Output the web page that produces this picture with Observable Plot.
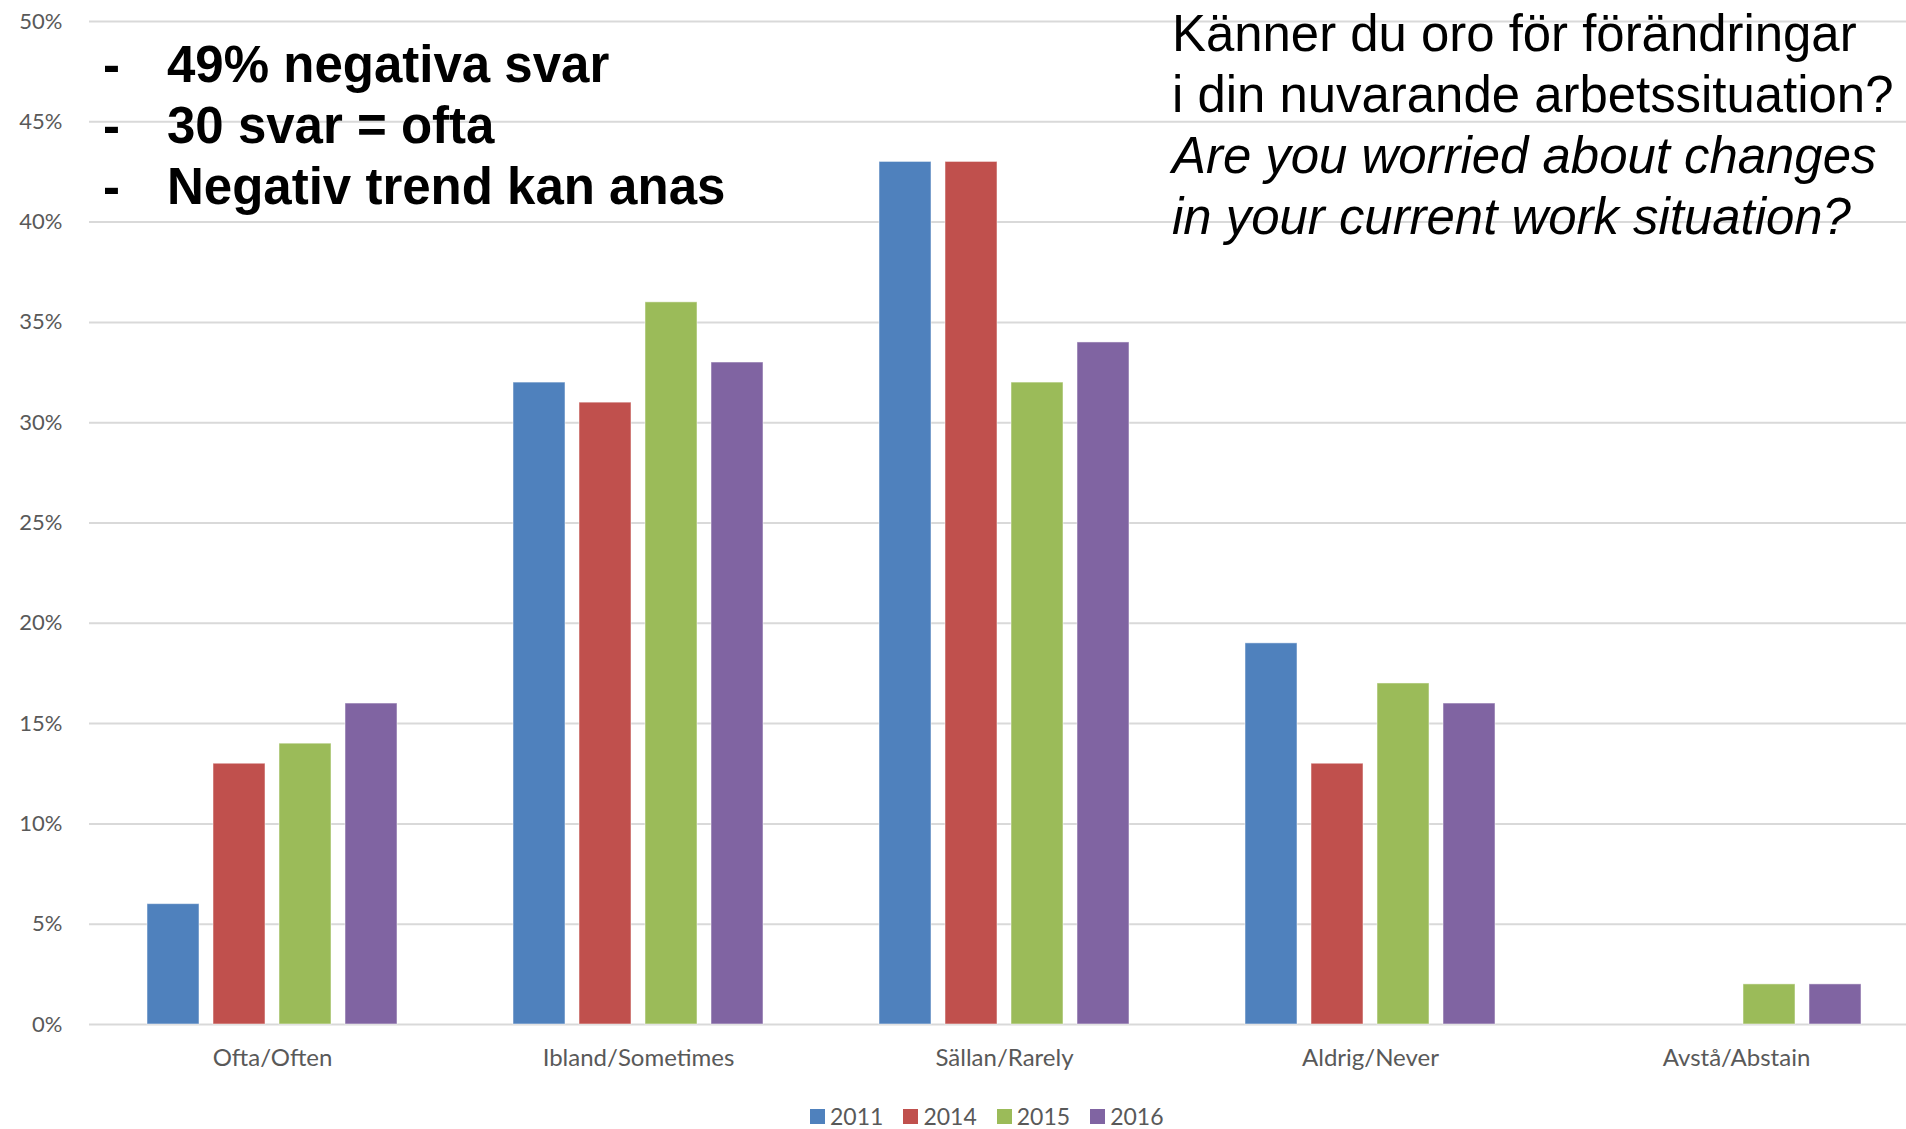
<!DOCTYPE html>
<html>
<head>
<meta charset="utf-8">
<script src="https://cdn.jsdelivr.net/npm/d3@7"></script>
<script src="https://cdn.jsdelivr.net/npm/@observablehq/plot@0.6"></script>
<style>
  body { margin: 0; background: #fff; }
  #wrap { position: relative; width: 1906px; height: 1129px; overflow: hidden; background: #fff; }
  #chart { position: absolute; left: 0; top: 0; }
  .note { position: absolute; font-family: "Liberation Sans", Arial, sans-serif; color: #000; white-space: nowrap; }
  #bullets { left: 0; top: 34px; font-size: 51px; font-weight: bold; line-height: 61px; }
  #bullets .row { position: relative; height: 61px; }
  #bullets .dash { position: absolute; left: 103px; }
  #bullets .txt { position: absolute; left: 167px; }
  #question { left: 1172px; top: 3px; font-size: 50.9px; line-height: 61px; }
  #question .it { font-style: italic; }
  #legend { position: absolute; top: 1102px; left: 810px; display: flex; align-items: center;
            font-family: Lato, "Open Sans", sans-serif; font-size: 23px; color: #595959; }
  #legend .item { display: flex; align-items: center; margin-right: 20px; }
  #legend .sw { width: 15px; height: 15px; margin-right: 5px; }
</style>
</head>
<body>
<div id="wrap">
  <div id="chart"></div>
  <div id="bullets" class="note"></div>
  <div id="question" class="note"></div>
  <div id="legend"></div>
</div>
<script>
// ---- data ----
const categories = ["Ofta/Often", "Ibland/Sometimes", "Sällan/Rarely", "Aldrig/Never", "Avstå/Abstain"];
const years = ["2011", "2014", "2015", "2016"];
const values2011 = [6, 32, 43, 19, null];
const values2014 = [13, 31, 43, 13, null];
const values2015 = [14, 36, 32, 17, 2];
const values2016 = [16, 33, 34, 16, 2];
const yTicks = [0, 5, 10, 15, 20, 25, 30, 35, 40, 45, 50];
const colors = ["#4F81BD", "#C0504D", "#9BBB59", "#8064A2"];
const bulletLines = ["49% negativa svar", "30 svar = ofta", "Negativ trend kan anas"];
const questionLines = ["Känner du oro för förändringar", "i din nuvarande arbetssituation?"];
const questionLinesEn = ["Are you worried about changes", "in your current work situation?"];

const series = [values2011, values2014, values2015, values2016];
const table = [];
years.forEach((yr, i) => {
  categories.forEach((cat, j) => {
    const v = series[i][j];
    if (v != null) table.push({category: cat, year: yr, value: v});
  });
});

const chart = Plot.plot({
  width: 1906,
  height: 1090,
  marginTop: 21,
  marginBottom: 66,
  marginLeft: 88,
  marginRight: 0,
  style: {fontFamily: "Lato, 'Open Sans', sans-serif", fontSize: "22px", color: "#595959", background: "transparent"},
  fx: {domain: categories, range: [89, 1919], padding: 0, label: null},
  x: {domain: years, paddingInner: 0.21, paddingOuter: 0.87, axis: null},
  y: {domain: [0, 50], label: null},
  color: {domain: years, range: colors},
  marks: [
    Plot.gridY(yTicks, {stroke: "#d9d9d9", strokeWidth: 2, strokeOpacity: 1}),
    Plot.axisY(yTicks, {tickSize: 0, tickPadding: 27, tickFormat: d => d + "%", fill: "#595959", fontSize: 22, label: null}),
    Plot.axisFx({anchor: "bottom", tickSize: 0, tickPadding: 24, fill: "#595959", fontSize: 24, label: null}),
    Plot.barY(table, {fx: "category", x: "year", y: "value", fill: "year", stroke: "#ffffff", strokeOpacity: 0.5, strokeWidth: 1})
  ]
});
document.getElementById("chart").appendChild(chart);

// annotations
const b = document.getElementById("bullets");
bulletLines.forEach(t => {
  const row = document.createElement("div");
  row.className = "row";
  row.innerHTML = `<span class="dash">-</span><span class="txt"></span>`;
  row.querySelector(".txt").textContent = t;
  b.appendChild(row);
});
const q = document.getElementById("question");
questionLines.forEach(t => { const d = document.createElement("div"); d.textContent = t; q.appendChild(d); });
questionLinesEn.forEach(t => { const d = document.createElement("div"); d.className = "it"; d.textContent = t; q.appendChild(d); });

// legend
const lg = document.getElementById("legend");
years.forEach((yr, i) => {
  const it = document.createElement("div");
  it.className = "item";
  const sw = document.createElement("div");
  sw.className = "sw";
  sw.style.background = colors[i];
  const tx = document.createElement("span");
  tx.textContent = yr;
  it.appendChild(sw); it.appendChild(tx);
  lg.appendChild(it);
});
</script>
</body>
</html>
